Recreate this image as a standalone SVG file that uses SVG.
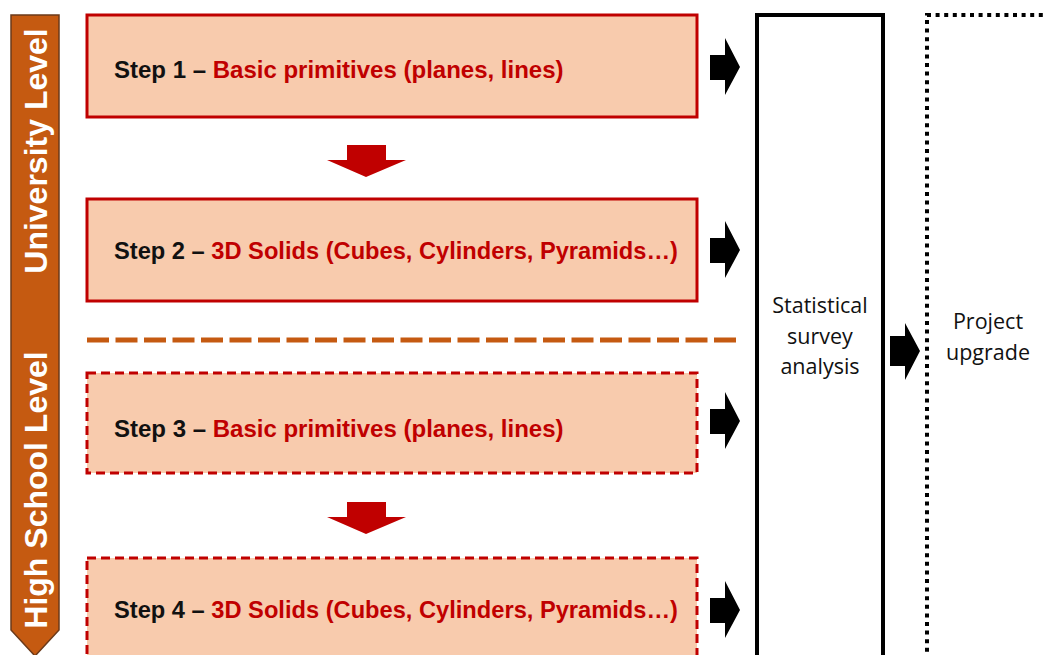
<svg xmlns="http://www.w3.org/2000/svg" width="1046" height="655" viewBox="0 0 1046 655">
<style>
.step{fill:#F8CBAD;stroke:#C00000;stroke-width:3}
.dash{stroke-dasharray:9 5}
.st{font-family:"Liberation Sans",Arial,sans-serif;font-weight:bold;font-size:24px;fill:#111}
.red{fill:#C00000}
.side{font-family:"Liberation Sans",Arial,sans-serif;font-weight:bold;font-size:32px;fill:#fff}
.lbl{font-family:"Open Sans","Liberation Sans",sans-serif;font-size:21.5px;fill:#111;text-anchor:middle}
.blk{fill:#000}
.dn{fill:#C00000}
</style>
<rect width="1046" height="655" fill="#fff"/>
<g id="level-bar">
<path d="M11,15 H59 V630 L35,656 L11,630 Z" fill="#C55A11" stroke="#6B3A1A" stroke-width="1.5"/>
<text class="side" transform="translate(47,151) rotate(-90)" text-anchor="middle">University Level</text>
<text class="side" transform="translate(47,490) rotate(-90)" text-anchor="middle">High School Level</text>
</g>
<g id="step1">
<rect class="step" x="87" y="15" width="610" height="102"/>
<text class="st" x="114" y="78">Step 1 – <tspan class="red">Basic primitives (planes, lines)</tspan></text>
</g>
<g id="step2">
<rect class="step" x="87" y="199" width="610" height="102"/>
<text class="st" x="114" y="259" textLength="564" lengthAdjust="spacingAndGlyphs">Step 2 – <tspan class="red">3D Solids (Cubes, Cylinders, Pyramids…)</tspan></text>
</g>
<g id="step3">
<rect class="step dash" x="87" y="373" width="610" height="100"/>
<text class="st" x="114" y="437">Step 3 – <tspan class="red">Basic primitives (planes, lines)</tspan></text>
</g>
<g id="step4">
<rect class="step dash" x="87" y="558" width="610" height="110"/>
<text class="st" x="114" y="618" textLength="564" lengthAdjust="spacingAndGlyphs">Step 4 – <tspan class="red">3D Solids (Cubes, Cylinders, Pyramids…)</tspan></text>
</g>
<g id="stats">
<rect x="757" y="15" width="126" height="660" fill="#fff" stroke="#000" stroke-width="4"/>
<text class="lbl" x="820" y="313">Statistical</text>
<text class="lbl" x="820" y="344">survey</text>
<text class="lbl" x="820" y="374">analysis</text>
</g>
<g id="upgrade">
<rect x="927" y="15" width="140" height="660" fill="none" stroke="#000" stroke-width="4" stroke-dasharray="4 4.6"/>
<text class="lbl" x="988" y="329">Project</text>
<text class="lbl" x="988" y="360">upgrade</text>
</g>
<g id="connectors">
<line x1="87" y1="340" x2="738" y2="340" stroke="#C55A11" stroke-width="5" stroke-dasharray="22 6.5"/>
<path class="dn" d="M347,145 H386 V160 H406 L366,177 L327,160 H347 Z"/>
<path class="dn" d="M347,502 H386 V517 H406 L366,534 L327,517 H347 Z"/>
<path class="blk" d="M710,55 H725 V38 L740,67 L725,95 V80 H710 Z"/>
<path class="blk" d="M710,238 H725 V221 L740,250 L725,278 V263 H710 Z"/>
<path class="blk" d="M710,409 H725 V392 L740,421 L725,449 V434 H710 Z"/>
<path class="blk" d="M710,598 H725 V581 L740,610 L725,638 V623 H710 Z"/>
<path class="blk" d="M890,336 H905 V323 L920,351 L905,380 V366 H890 Z"/>
</g>
</svg>
